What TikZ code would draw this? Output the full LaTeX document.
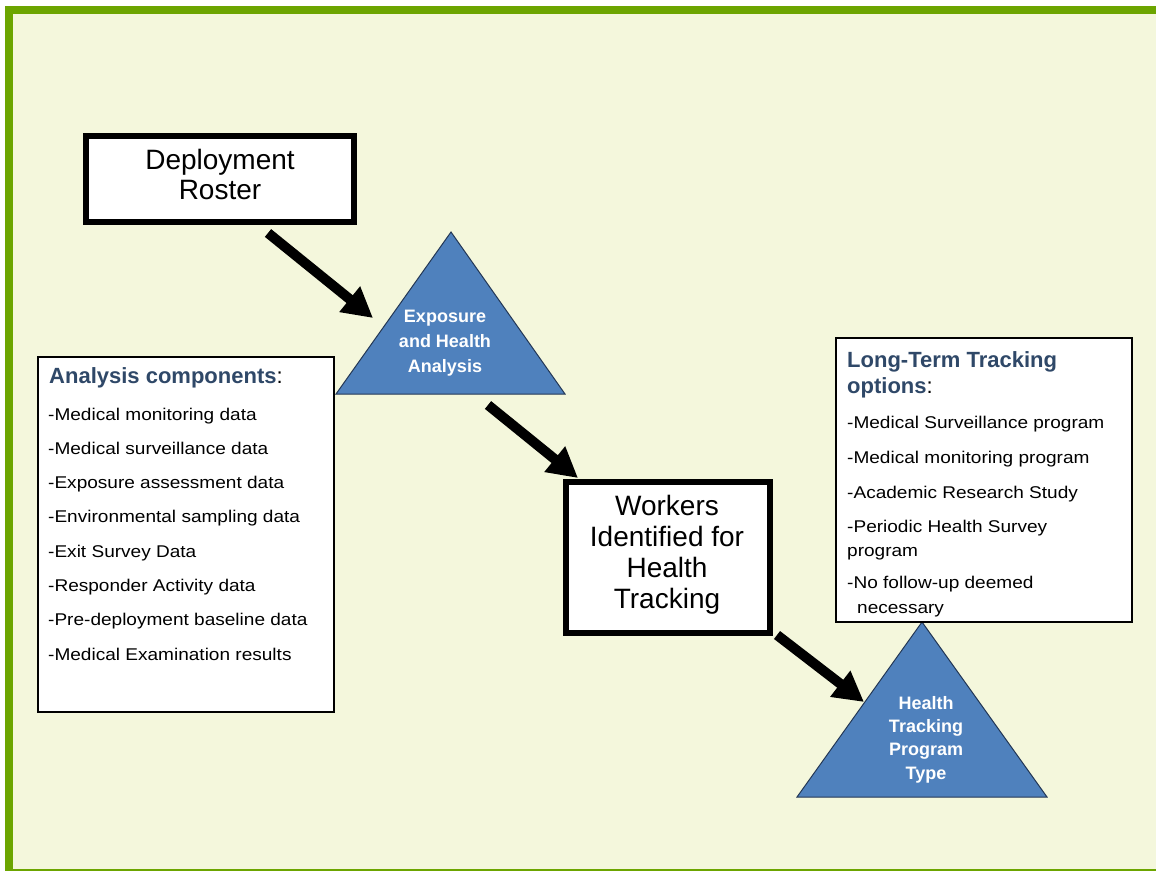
\documentclass[tikz,border=0pt]{standalone}
\usepackage{fontspec}
\setmainfont{Liberation Sans}
\newfontfamily\listfont[FakeStretch=1.12]{Liberation Sans}
\usetikzlibrary{arrows.meta}
\definecolor{bgc}{RGB}{244,247,220}
\definecolor{grn}{RGB}{108,165,0}
\definecolor{tri}{RGB}{79,129,189}
\definecolor{triedge}{RGB}{35,55,85}
\definecolor{head}{RGB}{47,72,104}
\begin{document}
\begin{tikzpicture}[x=1pt,y=-1pt,
  thickbox/.style={draw=black, line width=6pt, fill=white, inner sep=0pt},
  thinbox/.style={draw=black, line width=2pt, fill=white, inner sep=0pt},
  bigtext/.style={font=\fontsize{28}{30}\selectfont, align=center, anchor=base, inner sep=0pt},
  tritext/.style={font=\bfseries\fontsize{18}{25}\selectfont, text=white, align=center, anchor=base, inner sep=0pt},
  listtext/.style={font=\listfont\fontsize{17}{20}\selectfont, anchor=base west, inner sep=0pt},
  headtext/.style={font=\bfseries\fontsize{22}{27}\selectfont, text=head, anchor=base west, inner sep=0pt},
  flow/.style={line width=10pt, -{Triangle[length=30pt,width=31pt]}},
  trishape/.style={fill=tri, draw=triedge, line width=1pt}
]
\useasboundingbox (0,0) rectangle (1156,871);
% background and frame
\fill[white] (0,0) rectangle (1156,871);
\fill[bgc] (5,6) rectangle (1156,871);
\fill[grn] (5,6) rectangle (1156,14);
\fill[grn] (5,6) rectangle (13,871);
\fill[grn] (5,868.5) rectangle (1156,871);

% triangles
\draw[trishape] (336,394) -- (565,394) -- (451,232) -- cycle;
\node[tritext] (exptext) at (445,372) {Exposure\\and Health\\Analysis};
\draw[trishape] (797,797) -- (1047,797) -- (922,622) -- cycle;
\node[tritext, font=\bfseries\fontsize{18}{23.3}\selectfont] (httext) at (926,779) {Health\\Tracking\\Program\\Type};

% boxes
\node[thickbox, minimum width=268pt, minimum height=86pt] (roster) at (220,179) {};
\node[bigtext] (rostertext) at (220,199) {Deployment\\Roster};

\node[thickbox, minimum width=204pt, minimum height=151pt] (workers) at (668,557) {};
\node[bigtext, font=\fontsize{28}{31}\selectfont] (workerstext) at (667,608) {Workers\\Identified for\\Health\\Tracking};

\node[thinbox, minimum width=296pt, minimum height=355pt] (analysis) at (186,534.5) {};
\node[headtext] (ahead) at (49,383) {Analysis components\textmd{\textcolor{black}{:}}};
\foreach \i/\t in {0/{-Medical monitoring data},1/{-Medical surveillance data},2/{-Exposure assessment data},3/{-Environmental sampling data},4/{-Exit Survey Data},5/{-Responder Activity data},6/{-Pre-deployment baseline data},7/{-Medical Examination results}}
  \node[listtext] (al\i) at (48,{420+34.3*\i}) {\t};

\node[thinbox, minimum width=296pt, minimum height=284pt] (options) at (984,480) {};
\node[headtext] (ohead1) at (847,367) {Long-Term Tracking};
\node[headtext] (ohead2) at (847,393) {options\textmd{\textcolor{black}{:}}};
\node[listtext] (ol1) at (847,428) {-Medical Surveillance program};
\node[listtext] (ol2) at (847,463) {-Medical monitoring program};
\node[listtext] (ol3) at (847,498) {-Academic Research Study};
\node[listtext] (ol4) at (847,532) {-Periodic Health Survey};
\node[listtext] (ol4b) at (847,556) {program};
\node[listtext] (ol5) at (847,588) {-No follow-up deemed};
\node[listtext] (ol5b) at (857,613) {necessary};

% arrows
\coordinate (a1s) at (268,233);
\coordinate (a1e) at (373,318);
\coordinate (a2s) at (488,405);
\coordinate (a2e) at (578,478);
\coordinate (a3s) at (777,635);
\coordinate (a3e) at (864,702);
\draw[flow] (a1s) -- (a1e);
\draw[flow] (a2s) -- (a2e);
\draw[flow] (a3s) -- (a3e);
\end{tikzpicture}
\end{document}
